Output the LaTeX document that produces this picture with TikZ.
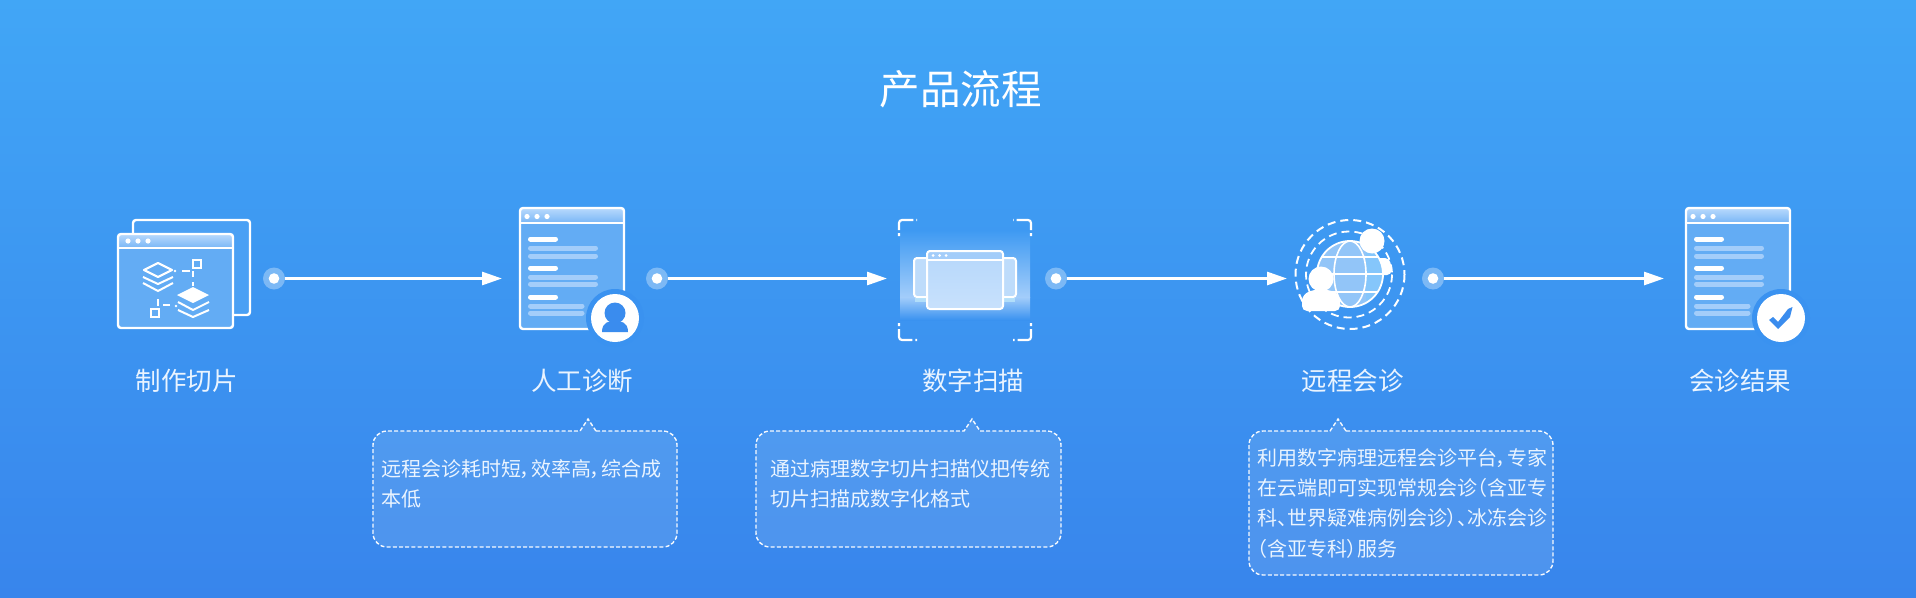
\documentclass[tikz,border=0pt]{standalone}
\usepackage{fontspec}
\setmainfont{Noto Sans CJK SC}[RawFeature=+palt]
\usetikzlibrary{arrows.meta}
\definecolor{bgtop}{HTML}{41A6F6}
\definecolor{bgbot}{HTML}{3885EC}
\definecolor{wbody}{HTML}{63ACF4}
\definecolor{wback}{HTML}{4AA0F4}
\definecolor{barT}{HTML}{B4D7FC}
\definecolor{barB}{HTML}{78B6F6}
\definecolor{soft}{HTML}{A3CDFA}
\definecolor{halo}{HTML}{3A92F0}
\definecolor{tick}{HTML}{3A8CEE}
\definecolor{txt}{HTML}{EAF4FF}
\definecolor{globeL}{HTML}{92C5F8}
\definecolor{globeR}{HTML}{85C6FB}
\tikzset{
  x=1pt,y=-1pt,
  lbl/.style={font=\fontsize{25.5}{30}\selectfont,text=txt,inner sep=0pt},
  titlelbl/.style={font=\fontsize{40.5}{48}\selectfont,text=white,inner sep=0pt},
  bodytxt/.style={font=\fontsize{20}{30.3}\selectfont,text=txt,inner sep=0pt,align=left,anchor=north west},
  dotnode/.style={circle,fill=white,fill opacity=.33,minimum size=22pt,inner sep=0pt},
  flow/.style={white,line width=2.8pt,-{Triangle[length=20pt,width=13pt]},shorten >=0pt},
  callout/.style={draw=white,fill=white,fill opacity=.11,draw opacity=.95,line width=1.4pt,dash pattern=on 4pt off 2.2pt},
  winline/.style={draw=white,line width=2.4pt,rounded corners=3pt},
  strongbar/.style={white,line width=5pt,line cap=round},
  softbar/.style={soft,line width=5pt,line cap=round},
  chev/.style={white,line width=2pt},
  ring/.style={white,line width=2pt,dash pattern=on 8pt off 5pt},
  cornermark/.style={white,line width=2.2pt,rounded corners=3pt,dash pattern=on 3pt off 3pt on 23pt off 3pt on 3pt},
}
\newcommand{\DocWin}[1]{%
\begin{scope}[shift={(#1,0)}]
  \fill[wbody,rounded corners=3pt] (0,208) rectangle (104,329);
  \shade[top color=barT,bottom color=barB,rounded corners=2pt] (1,209) rectangle (103,223);
  \draw[winline] (0,208) rectangle (104,329);
  \draw[white,line width=1.8pt] (0,223) -- (104,223);
  \foreach \dx in {7,17,27} \fill[white] (\dx,216.5) circle (2.6);
  \draw[strongbar] (10.5,239) -- (35.5,239);
  \draw[softbar] (10.5,248) -- (75.5,248);
  \draw[softbar] (10.5,256) -- (75.5,256);
  \draw[strongbar] (10.5,268) -- (35.5,268);
  \draw[softbar] (10.5,277) -- (75.5,277);
  \draw[softbar] (10.5,284) -- (75.5,284);
  \draw[strongbar] (10.5,297) -- (35.5,297);
  \draw[softbar] (10.5,306) -- (62,306);
  \draw[softbar] (10.5,313) -- (62,313);
  \fill[halo] (95,318) circle (29);
  \fill[white] (95,318) circle (24);
\end{scope}}
\begin{document}
\begin{tikzpicture}
\useasboundingbox (0,0) rectangle (1916,597);
\shade[top color=bgtop,bottom color=bgbot] (0,0) rectangle (1916,597);

\node[titlelbl] (title) at (960.5,89) {产品流程};

% ---------- icon 1
\fill[wback] (133,234) -- (133,220) -- (250,220) -- (250,315) -- (233,315) -- (233,234) -- cycle;
\draw[winline] (133,234) -- (133,220) -- (250,220) -- (250,315) -- (233,315);
\fill[wbody,rounded corners=3pt] (118,234) rectangle (233,328);
\shade[top color=barT,bottom color=barB,rounded corners=2pt] (119,235) rectangle (232,248);
\draw[winline] (118,234) rectangle (233,328);
\draw[white,line width=1.8pt] (118,248) -- (233,248);
\foreach \dx in {128,138,148} \fill[white] (\dx,241) circle (2.6);
\draw[white,line width=2.2pt,line join=round] (144,270) -- (158,263) -- (172,270) -- (158,277) -- cycle;
\draw[chev] (143,277) -- (158,284) -- (173,277);
\draw[chev] (143,283) -- (158,291) -- (173,283);
\fill[white] (177,295) -- (193,287) -- (209,295) -- (193,303) -- cycle;
\draw[chev] (178,302) -- (193,310) -- (209,302);
\draw[chev] (178,310) -- (193,317) -- (209,310);
\draw[white,line width=2pt] (193,260) rectangle (201,268);
\draw[white,line width=2pt] (151,309) rectangle (159,317);
\fill[white] (175,271) circle (1.3);
\draw[white,line width=2pt] (182,271) -- (190,271);
\draw[white,line width=2pt] (193,271) -- (193,277);
\draw[white,line width=2pt] (193,282) -- (193,286);
\fill[white] (176,306) circle (1.3);
\draw[white,line width=2pt] (163,305) -- (170,305);
\draw[white,line width=2pt] (158,299) -- (158,306);

% ---------- icon 2
\DocWin{520}
\fill[tick] (615,313) circle (10.5);
\fill[tick] (602,332) .. controls (602,322) and (609,321) .. (615,321) .. controls (621,321) and (628,322) .. (628,332) -- cycle;

% ---------- icon 3
\shade[top color=bgtop!62!bgbot,bottom color=soft] (900,230) rectangle (1030,297);
\shade[top color=soft,bottom color=halo] (900,297) rectangle (1030,320);
\fill[soft!70!white,rounded corners=2pt] (914,258) rectangle (1016,297);
\draw[winline,line width=2pt] (914,258) rectangle (1016,297);
\fill[cyan!25!white,opacity=.7] (915,298) rectangle (927,302);
\fill[cyan!25!white,opacity=.7] (1003,298) rectangle (1015,302);
\shade[top color=soft!80!white,bottom color=soft!60!white,rounded corners=3pt] (927,250) rectangle (1003,309);
\fill[soft] (928,251) rectangle (1002,260);
\draw[winline,line width=2pt] (927,251) rectangle (1003,309);
\draw[white,line width=1.4pt] (927,260) -- (1003,260);
\foreach \dx in {933,939.5,946} \fill[white] (\dx,255.5) circle (1.5);
\draw[cornermark] (899,236) -- (899,220) -- (917,220);
\draw[cornermark] (1031,236) -- (1031,220) -- (1013,220);
\draw[cornermark] (899,323) -- (899,340) -- (917,340);
\draw[cornermark] (1031,323) -- (1031,340) -- (1013,340);

% ---------- icon 4
\draw[ring] (1350,274.5) circle (54.5);
\draw[ring,line width=1.8pt] (1349,274.5) circle (43);
\fill[white,rounded corners=5pt] (1372,275) -- (1372,258) -- (1390,258) -- (1392,275) -- cycle;
\fill[globeR] (1350,274) circle (33);
\begin{scope}
  \clip (1350,274) circle (33);
  \fill[globeL] (1317,241) rectangle (1366,307);
  \draw[white,line width=1.6pt] (1310,257) -- (1390,257);
  \draw[white,line width=1.6pt] (1310,274) -- (1390,274);
  \draw[white,line width=1.6pt] (1310,292) -- (1390,292);
\end{scope}
\draw[white,line width=1.8pt] (1350,274) circle (33);
\draw[white,line width=1.6pt] (1350,274) ellipse (16 and 33);
\fill[white] (1372,241) circle (12.5);
\fill[white] (1321,279) circle (12.5);
\fill[white,rounded corners=5pt] (1302,311) -- (1302,296) -- (1311,290) -- (1331,290) -- (1340,296) -- (1340,311) -- cycle;

% ---------- icon 5
\DocWin{1686}
\fill[tick] (1769,320) -- (1773,317) -- (1778,322) -- (1788,309) -- (1792.5,307) -- (1790,317) -- (1778,329) -- cycle;

% ---------- labels
\node[lbl] (l1) at (186.5,381) {制作切片};
\node[lbl] (l2) at (582,381) {人工诊断};
\node[lbl] (l3) at (973,381) {数字扫描};
\node[lbl] (l4) at (1352.5,381) {远程会诊};
\node[lbl] (l5) at (1740,381) {会诊结果};

% ---------- connectors
\coordinate (t1) at (502,278.5);
\coordinate (t2) at (887,278.5);
\coordinate (t3) at (1287,278.5);
\coordinate (t4) at (1664,278.5);
\foreach \n/\cx in {d1/274,d2/657,d3/1056,d4/1433}{
  \node[dotnode] (\n) at (\cx,278.5) {};
  \fill[white] (\n.center) circle (5.3);
}
\draw[flow] (d1.east) -- (t1);
\draw[flow] (d2.east) -- (t2);
\draw[flow] (d3.east) -- (t3);
\draw[flow] (d4.east) -- (t4);

% ---------- callouts
\draw[callout,rounded corners=14pt] (596,431) -- (677,431) -- (677,547) -- (373,547) -- (373,431) -- (500,431) [sharp corners] -- (580,431) -- (588,419) -- cycle;
\draw[callout,rounded corners=14pt] (980,431) -- (1061,431) -- (1061,547) -- (756,547) -- (756,431) -- (900,431) [sharp corners] -- (964,431) -- (972,419) -- cycle;
\draw[callout,rounded corners=14pt] (1346,431) -- (1553,431) -- (1553,575) -- (1249,575) -- (1249,431) -- (1300,431) [sharp corners] -- (1330,431) -- (1338,419) -- cycle;

\node[bodytxt] (b1) at (381,459) {远程会诊耗时短，效率高，综合成\\本低};
\node[bodytxt] (b2) at (770,459) {通过病理数字切片扫描仪把传统\\切片扫描成数字化格式};
\node[bodytxt] (b3) at (1257,448) {利用数字病理远程会诊平台，专家\\在云端即可实现常规会诊（含亚专\\科、世界疑难病例会诊）、冰冻会诊\\（含亚专科）服务};
\end{tikzpicture}
\end{document}
